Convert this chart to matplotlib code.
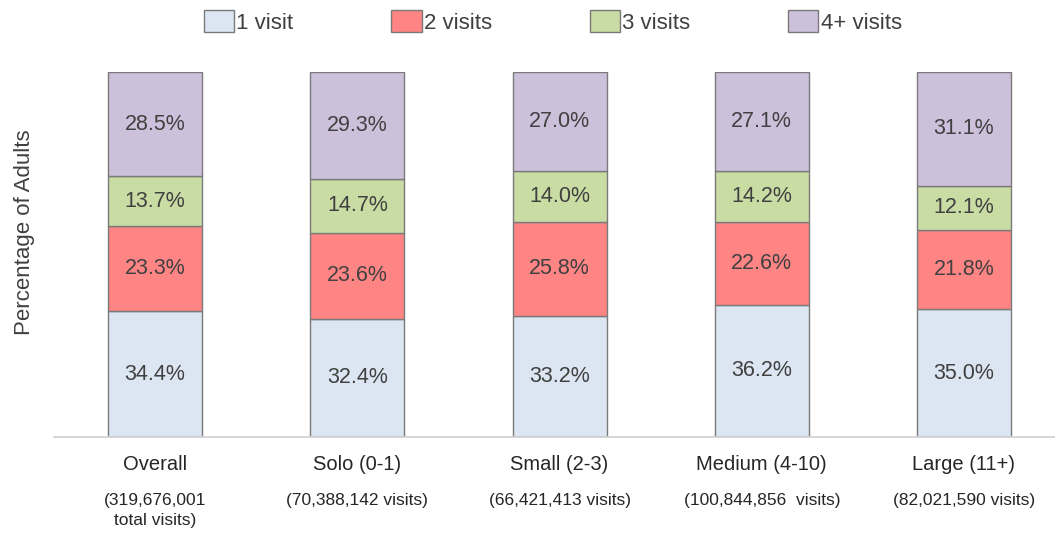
import matplotlib
matplotlib.use("Agg")
import matplotlib.pyplot as plt
import numpy as np

categories = ["Overall", "Solo (0-1)", "Small (2-3)", "Medium (4-10)", "Large (11+)"]
sublabels = ["(319,676,001\ntotal visits)", "(70,388,142 visits)", "(66,421,413 visits)",
             "(100,844,856  visits)", "(82,021,590 visits)"]
series_names = ["1 visit", "2 visits", "3 visits", "4+ visits"]
v1 = [34.4, 32.4, 33.2, 36.2, 35.0]
v2 = [23.3, 23.6, 25.8, 22.6, 21.8]
v3 = [13.7, 14.7, 14.0, 14.2, 12.1]
v4 = [28.5, 29.3, 27.0, 27.1, 31.1]
series = [v1, v2, v3, v4]
colors = ["#dce6f2", "#ff8585", "#c8dca4", "#ccc0da"]

plt.rcParams['font.family'] = ['Liberation Sans', 'DejaVu Sans']
fig = plt.figure(figsize=(10.55, 5.35), dpi=100)
ax = fig.add_axes([54/1055, 1-437/535, 1-54/1055, 365/535])

x = np.arange(len(categories))
bottom = np.zeros(len(categories))
handles = []
for vals, c, name in zip(series, colors, series_names):
    vals = np.array(vals)
    b = ax.bar(x, vals, bottom=bottom, width=0.465, color=c, edgecolor="#7a7a7a",
               linewidth=1.0, label=name)
    handles.append(b)
    for xi, bi, vi in zip(x, bottom, vals):
        ax.text(xi, bi + vi/2, f"{vi:.1f}%", ha="center", va="center",
                fontsize=15.5, color="#404040")
    bottom += vals

ax.set_xlim(-0.5, 4.45)
ax.set_ylim(0, 100)
ax.set_yticks([])
ax.set_xticks(x)
ax.set_xticklabels(categories, fontsize=14.5, color="#262626")
ax.tick_params(axis='x', length=0, pad=13)
for s in ["top", "right", "left"]:
    ax.spines[s].set_visible(False)
ax.spines["bottom"].set_color("#d0d0d0")
ax.spines["bottom"].set_linewidth(1.2)
for xi, sl in zip(x, sublabels):
    ax.text(xi, -15.3, sl, ha="center", va="top", fontsize=12.5, color="#262626",
            transform=ax.transData, linespacing=1.45, clip_on=False)

ax.set_ylabel("Percentage of Adults", fontsize=16, color="#404040")
ax.yaxis.set_label_coords(-0.019, 0.56)

leg = fig.legend(handles, series_names, loc="center", ncol=4,
                 bbox_to_anchor=(0.524, 1-22/535), frameon=False, fontsize=16,
                 handlelength=1.36, handleheight=1.13, handletextpad=0.1,
                 columnspacing=4.4, borderpad=0, borderaxespad=0)
for t in leg.get_texts():
    t.set_color("#404040")

fig.savefig("out.png", dpi=100)
